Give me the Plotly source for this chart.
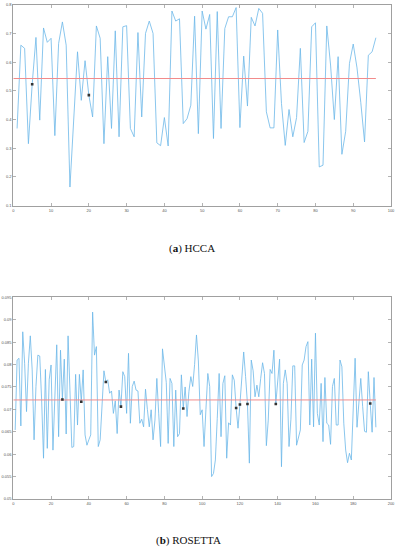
import plotly.graph_objects as go

# ---------------- data ----------------
hcca_x = list(range(1, 97))
hcca_y = [0.369, 0.659, 0.648, 0.316, 0.523, 0.686, 0.398, 0.719, 0.669, 0.683,
          0.344, 0.665, 0.740, 0.659, 0.165, 0.420, 0.636, 0.467, 0.605, 0.485,
          0.409, 0.726, 0.683, 0.316, 0.619, 0.369, 0.709, 0.340, 0.723, 0.727,
          0.369, 0.340, 0.703, 0.409, 0.700, 0.743, 0.700, 0.319, 0.309, 0.407,
          0.308, 0.778, 0.743, 0.751, 0.386, 0.403, 0.450, 0.760, 0.351, 0.778,
          0.715, 0.766, 0.334, 0.776, 0.369, 0.717, 0.758, 0.758, 0.790, 0.372,
          0.621, 0.447, 0.756, 0.726, 0.787, 0.770, 0.427, 0.371, 0.371, 0.712,
          0.456, 0.310, 0.435, 0.340, 0.407, 0.648, 0.320, 0.359, 0.723, 0.737,
          0.235, 0.241, 0.726, 0.590, 0.400, 0.619, 0.279, 0.359, 0.595, 0.663,
          0.580, 0.460, 0.322, 0.624, 0.636, 0.685]
hcca_mean = 0.543
hcca_mark_x = [5, 20]

ros_x = list(range(1, 193))
ros_y = [0.0654, 0.0810, 0.0814, 0.0663, 0.0873, 0.0803, 0.0695, 0.0803, 0.0864, 0.0788,
         0.0632, 0.0751, 0.0821, 0.0819, 0.0721, 0.0591, 0.0789, 0.0613, 0.0766, 0.0799,
         0.0609, 0.0739, 0.0844, 0.0639, 0.0832, 0.0722, 0.0812, 0.0645, 0.0864, 0.0743,
         0.0615, 0.0617, 0.0778, 0.0665, 0.0778, 0.0717, 0.0788, 0.0643, 0.0620, 0.0632,
         0.0643, 0.0917, 0.0821, 0.0840, 0.0617, 0.0632, 0.0717, 0.0786, 0.0761, 0.0766,
         0.0736, 0.0741, 0.0691, 0.0719, 0.0646, 0.0743, 0.0706, 0.0784, 0.0773, 0.0691,
         0.0825, 0.0669, 0.0751, 0.0763, 0.0743, 0.0741, 0.0669, 0.0678, 0.0661, 0.0745,
         0.0700, 0.0661, 0.0699, 0.0632, 0.0676, 0.0769, 0.0690, 0.0617, 0.0835, 0.0790,
         0.0760, 0.0624, 0.0769, 0.0758, 0.0617, 0.0743, 0.0639, 0.0646, 0.0777, 0.0702,
         0.0750, 0.0684, 0.0740, 0.0773, 0.0751, 0.0800, 0.0866, 0.0808, 0.0688, 0.0699,
         0.0617, 0.0700, 0.0780, 0.0751, 0.0550, 0.0557, 0.0587, 0.0680, 0.0780, 0.0639,
         0.0758, 0.0775, 0.0591, 0.0670, 0.0665, 0.0777, 0.0765, 0.0703, 0.0658, 0.0711,
         0.0780, 0.0828, 0.0773, 0.0712, 0.0580, 0.0810, 0.0786, 0.0728, 0.0754, 0.0728,
         0.0769, 0.0804, 0.0780, 0.0619, 0.0676, 0.0789, 0.0780, 0.0832, 0.0712, 0.0769,
         0.0812, 0.0572, 0.0758, 0.0788, 0.0758, 0.0617, 0.0678, 0.0797, 0.0797, 0.0620,
         0.0636, 0.0654, 0.0799, 0.0810, 0.0840, 0.0851, 0.0665, 0.0812, 0.0661, 0.0870,
         0.0691, 0.0665, 0.0758, 0.0628, 0.0771, 0.0669, 0.0665, 0.0622, 0.0751, 0.0769,
         0.0665, 0.0665, 0.0810, 0.0795, 0.0669, 0.0609, 0.0581, 0.0602, 0.0587, 0.0728,
         0.0814, 0.0660, 0.0706, 0.0769, 0.0706, 0.0651, 0.0649, 0.0784, 0.0713, 0.0649,
         0.0771, 0.0660]
ros_mean = 0.0721
ros_mark_x = [26, 36, 49, 57, 90, 118, 120, 124, 139, 189]

hcca_xticks = [0, 10, 20, 30, 40, 50, 60, 70, 80, 90, 100]
hcca_yticks = [0.1, 0.2, 0.3, 0.4, 0.5, 0.6, 0.7, 0.8]
hcca_ytext = ["0.1", "0.2", "0.3", "0.4", "0.5", "0.6", "0.7", "0.8"]
ros_xticks = [0, 20, 40, 60, 80, 100, 120, 140, 160, 180, 200]
ros_yticks = [0.05, 0.055, 0.06, 0.065, 0.07, 0.075, 0.08, 0.085, 0.09, 0.095]
ros_ytext = ["0.05", "0.055", "0.06", "0.065", "0.07", "0.075", "0.08", "0.085", "0.09", "0.095"]

captions = ["(<b>a</b>) HCCA", "(<b>b</b>) ROSETTA"]

# ---------------- styles ----------------
W, H = 397, 550
BLUE = "#6cb8e8"
RED = "#f28b8b"
DOT = "#333333"
FRAME = "#a0a0a0"


def py(pix):
    return 1 - pix / H


fig = go.Figure()

# HCCA
fig.add_trace(go.Scatter(x=hcca_x, y=hcca_y, mode="lines",
                         line=dict(color=BLUE, width=0.8), xaxis="x", yaxis="y"))
fig.add_trace(go.Scatter(x=[0, hcca_x[-1]], y=[hcca_mean, hcca_mean], mode="lines",
                         line=dict(color=RED, width=1), xaxis="x", yaxis="y"))
fig.add_trace(go.Scatter(x=hcca_mark_x, y=[hcca_y[i - 1] for i in hcca_mark_x], mode="markers",
                         marker=dict(color=DOT, size=2.6, symbol="square"), xaxis="x", yaxis="y"))

# ROSETTA
fig.add_trace(go.Scatter(x=ros_x, y=ros_y, mode="lines",
                         line=dict(color=BLUE, width=0.8), xaxis="x2", yaxis="y2"))
fig.add_trace(go.Scatter(x=[0, ros_x[-1]], y=[ros_mean, ros_mean], mode="lines",
                         line=dict(color=RED, width=1), xaxis="x2", yaxis="y2"))
fig.add_trace(go.Scatter(x=ros_mark_x, y=[ros_y[i - 1] for i in ros_mark_x], mode="markers",
                         marker=dict(color=DOT, size=2.6, symbol="square"), xaxis="x2", yaxis="y2"))

axis_common = dict(showgrid=False, zeroline=False, showline=True, linecolor=FRAME, linewidth=1,
                   mirror="ticks", ticks="inside", ticklen=3, tickcolor=FRAME, tickwidth=0.8,
                   tickfont=dict(size=4, color="#555555", family="Liberation Sans"),
                   automargin=False)

xdom = [13.3 / W, 391 / W]

fig.update_layout(
    width=W, height=H,
    margin=dict(l=0, r=0, t=0, b=0),
    paper_bgcolor="white", plot_bgcolor="white",
    showlegend=False,
    xaxis=dict(domain=xdom, range=[0, 100], tickvals=hcca_xticks, anchor="y", **axis_common),
    yaxis=dict(domain=[py(205.7), py(4.7)], range=[0.1, 0.8], tickvals=hcca_yticks,
               ticktext=hcca_ytext, anchor="x", **axis_common),
    xaxis2=dict(domain=xdom, range=[0, 200], tickvals=ros_xticks, anchor="y2", **axis_common),
    yaxis2=dict(domain=[py(499), py(297.3)], range=[0.05, 0.095], tickvals=ros_yticks,
                ticktext=ros_ytext, anchor="x2", **axis_common),
    annotations=[
        dict(text=captions[0], x=192 / W, y=py(248), xref="paper", yref="paper",
             xanchor="center", yanchor="middle", showarrow=False,
             font=dict(size=11, color="#111111", family="Liberation Serif")),
        dict(text=captions[1], x=188 / W, y=py(540), xref="paper", yref="paper",
             xanchor="center", yanchor="middle", showarrow=False,
             font=dict(size=11, color="#111111", family="Liberation Serif")),
    ],
)

fig.write_html("out.html", config={"displayModeBar": False, "staticPlot": True},
               post_script="document.body.style.margin='0';document.body.style.overflow='hidden';")
